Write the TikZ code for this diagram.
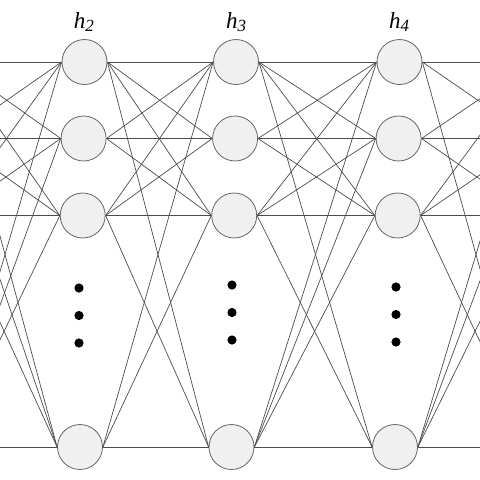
\documentclass[tikz,border=0pt]{standalone}
\usepackage{fontspec}
\setmainfont{Liberation Serif}
\usetikzlibrary{shapes.geometric}

\newcommand{\layername}[1]{\fontsize{23}{23}\selectfont\textit{h}\raisebox{-0.35ex}{\fontsize{17}{17}\selectfont\textit{#1}}}

\begin{document}
\begin{tikzpicture}[x=1pt, y=-1pt]
  \tikzstyle{neuron} = [circle, minimum size=45pt, inner sep=0pt, draw=black!60, line width=0.8pt, fill=black!6]
  \tikzstyle{link} = [draw=black!70, line width=0.7pt]
  \tikzstyle{dot} = [fill=black]
  \tikzstyle{layer} = [anchor=base, inner sep=0pt]

  \useasboundingbox (0,0) rectangle (480,480);
  \clip (0,0) rectangle (480,480);

  % neurons, columns 0 and 4 lie outside the frame
  \foreach \c/\x in {0/-70, 1/84.5, 2/236, 3/399.5, 4/557} {
    \foreach \r/\y in {1/62, 2/138.5, 3/215.5, 4/447} {
      \node (n\c\r) [neuron] at ({\x-4.5*(\y-62)/385}, \y) {};
    }
  }

  % connections between neighbouring columns (from/to rows)
  \foreach \c/\edges in {
      0/{1/1,1/2,1/3,1/4,2/1,2/2,2/3,2/4,3/1,3/2,3/3,3/4,4/1,4/2,4/3,4/4},
      1/{1/1,1/2,1/3,1/4,2/1,2/2,2/3,3/1,3/2,3/3,3/4,4/1,4/3,4/4},
      2/{1/1,1/2,1/3,1/4,2/1,2/2,2/3,3/1,3/2,3/3,3/4,4/1,4/2,4/3,4/4},
      3/{1/1,1/2,1/4,2/1,2/2,2/3,3/1,3/2,3/3,3/4,4/1,4/2,4/3,4/4}} {
    \pgfmathtruncatemacro{\d}{\c+1}
    \foreach \i/\j in \edges {
      \draw [link] (n\c\i.east) -- (n\d\j.west);
    }
  }

  % vertical dots
  \foreach \x/\y in {79/288, 232/285, 396/287} {
    \fill [dot] (\x, \y) circle (4.6);
    \fill [dot] (\x, \y+27.5) circle (4.6);
    \fill [dot] (\x, \y+55) circle (4.6);
  }

  % layer names
  \node (h2) [layer] at (84, 28) {\layername{2}};
  \node (h3) [layer] at (236, 28) {\layername{3}};
  \node (h4) [layer] at (399, 28) {\layername{4}};
\end{tikzpicture}
\end{document}
